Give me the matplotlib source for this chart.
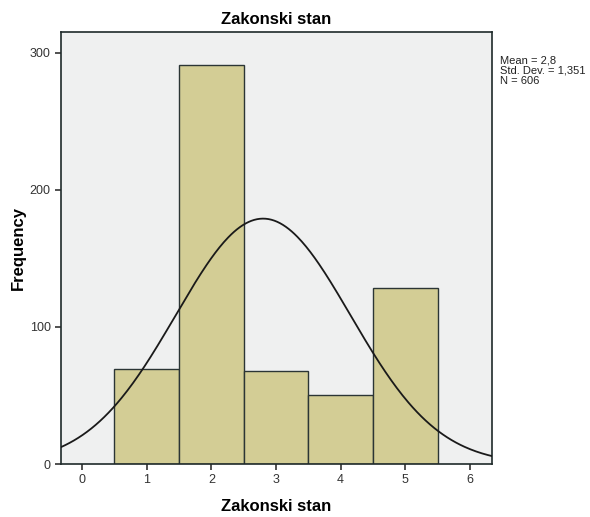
import numpy as np
import matplotlib.pyplot as plt

plt.rcParams['font.family'] = ['Liberation Sans', 'DejaVu Sans']

# podaci: Zakonski stan
categories = [1, 2, 3, 4, 5]
counts = [69, 291, 68, 50, 128]
mean = 2.8
std = 1.351
n = 606

fig = plt.figure(figsize=(5.9, 5.17), dpi=100)
ax = fig.add_axes([0.1034, 0.1025, 0.7305, 0.8355])
ax.set_facecolor('#eff0f0')

ax.bar(categories, counts, width=1.0, color='#d3cd95', edgecolor='#2b3535', linewidth=1.0, zorder=2)

# normalna kriva
x = np.linspace(-0.325, 6.34, 300)
y = n * 1.0 / (std * np.sqrt(2 * np.pi)) * np.exp(-0.5 * ((x - mean) / std) ** 2)
ax.plot(x, y, color='#1a1a1a', linewidth=1.3, zorder=3)

ax.set_xlim(-0.325, 6.34)
ax.set_ylim(0, 315)
ax.set_xticks(range(0, 7))
ax.set_yticks([0, 100, 200, 300])
ax.tick_params(direction='out', length=4, width=1.2, labelsize=9, colors='#333333')
for s in ax.spines.values():
    s.set_color('#1f2a2a')
    s.set_linewidth(1.2)

ax.set_title('Zakonski stan', fontsize=12, fontweight='bold', pad=6)
ax.set_xlabel('Zakonski stan', fontsize=12, fontweight='bold', labelpad=9)
ax.set_ylabel('Frequency', fontsize=12, fontweight='bold', labelpad=3)

fig.text(0.847, 0.893, 'Mean = 2,8\nStd. Dev. = 1,351\nN = 606',
         fontsize=8, va='top', ha='left', color='#222222', linespacing=1.05)

fig.savefig('out.png', dpi=100)
